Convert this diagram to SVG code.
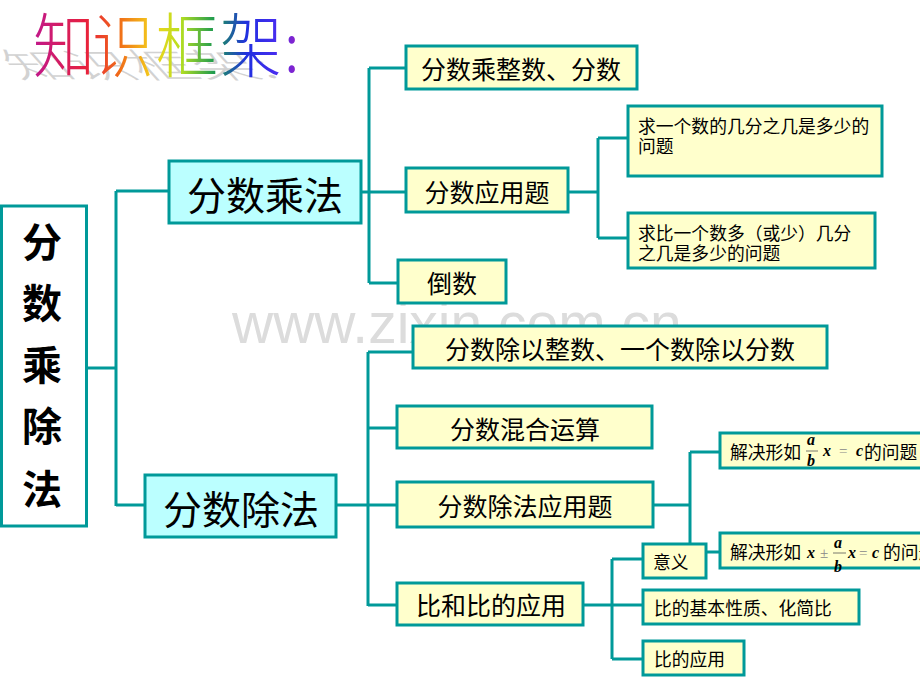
<svg xmlns="http://www.w3.org/2000/svg" width="920" height="690" viewBox="0 0 920 690">
<defs>
<linearGradient id="rainbow" gradientUnits="userSpaceOnUse" x1="33" y1="0" x2="300" y2="0">
<stop offset="0" stop-color="#c0188c"/>
<stop offset="0.2" stop-color="#e8203c"/>
<stop offset="0.32" stop-color="#f06a18"/>
<stop offset="0.45" stop-color="#f4d21c"/>
<stop offset="0.55" stop-color="#b8e020"/>
<stop offset="0.68" stop-color="#1c9a50"/>
<stop offset="0.8" stop-color="#2030e0"/>
<stop offset="0.92" stop-color="#4a2cf0"/>
<stop offset="1" stop-color="#9a20c0"/>
</linearGradient>
<style>
.box{fill:#ffffcc;stroke:#009999;stroke-width:3}
.main{fill:#bbffff;stroke:#009999;stroke-width:3}
.side{fill:#ffffff;stroke:#009999;stroke-width:3}
.con{fill:none;stroke:#009999;stroke-width:3}
.t{font-family:"Noto Sans CJK SC","Noto Sans",sans-serif;fill:#000;dominant-baseline:central}
.m{font-size:25px;text-anchor:middle}
.big{font-size:39px;text-anchor:middle}
.s{font-size:17px}
.s2{font-size:17.8px}
.f{font-family:"Liberation Serif",serif;font-style:italic;font-weight:bold;font-size:16px;fill:#000}
.op{font-family:"Liberation Serif",serif;font-size:15px;fill:#888}
.ttl{font-family:"Noto Sans CJK SC",sans-serif;font-size:62px;font-weight:200}
</style>
</defs>
<rect width="920" height="690" fill="#ffffff"/>

<g id="title">
<text class="ttl" x="40" y="0" transform="translate(-22,78) skewX(42) scale(1,0.55)" style="fill:#c4c4c4;opacity:0.75">知识框架:</text>
<text class="ttl" transform="translate(0,41) scale(1,1.14)" style="fill:url(#rainbow);dominant-baseline:central" y="0"><tspan x="33">知</tspan><tspan x="92">识</tspan><tspan x="156">框</tspan><tspan x="220">架</tspan><tspan x="284">:</tspan></text>
</g>

<g id="watermark">
<text x="232" y="343" style="font-family:'Liberation Sans',Arial,sans-serif;font-size:57px;fill:#dcdcdc">www.zixin.com.cn</text>
</g>

<g id="connectors">
<path class="con" d="M86,368 H116 M116,191 V506 M116,191 H168 M116,505 H145"/>
<path class="con" d="M361,192 H369 M369,68 V283 M369,68 H405 M369,192 H405 M369,283 H398"/>
<path class="con" d="M568,192 H598 M598,138 V238 M598,138 H628 M598,238 H628"/>
<path class="con" d="M336,505 H368 M368,352 V606 M368,352 H413 M368,428 H397 M368,505 H397 M368,605 H397"/>
<path class="con" d="M653,505 H690 M690,452 V544 M690,452 H720 M706,552 H720"/>
<path class="con" d="M583,605 H612 M612,559 V659 M612,559 H643 M612,605 H643 M612,659 H643"/>
</g>

<g id="n-root">
<rect class="side" x="1.5" y="206" width="85" height="320"/>
<g class="t" style="font-size:40px;font-weight:bold;text-anchor:middle">
<text x="42" y="240">分</text>
<text x="42" y="301">数</text>
<text x="42" y="363">乘</text>
<text x="42" y="424">除</text>
<text x="42" y="487">法</text>
</g>
</g>

<g id="n-mul">
<rect class="main" x="169" y="161" width="192" height="62"/>
<text class="t big" x="265" y="193">分数乘法</text>
</g>
<g id="n-div">
<rect class="main" x="145" y="475" width="191" height="62"/>
<text class="t big" x="241" y="507">分数除法</text>
</g>

<g id="n-mul1">
<rect class="box" x="406" y="46" width="231" height="43"/>
<text class="t m" x="521" y="68">分数乘整数、分数</text>
</g>
<g id="n-mul2">
<rect class="box" x="406" y="168" width="162" height="44"/>
<text class="t m" x="487" y="191">分数应用题</text>
</g>
<g id="n-mul3">
<rect class="box" x="398" y="260" width="108" height="43"/>
<text class="t m" x="452" y="282">倒数</text>
</g>

<g id="n-app1">
<rect class="box" x="628" y="106" width="254" height="70"/>
<text class="t s2" x="638" y="125">求一个数的几分之几是多少的</text>
<text class="t s2" x="638" y="145">问题</text>
</g>
<g id="n-app2">
<rect class="box" x="628" y="213" width="247" height="55"/>
<text class="t s2" x="638" y="232">求比一个数多（或少）几分</text>
<text class="t s2" x="638" y="252">之几是多少的问题</text>
</g>

<g id="n-div1">
<rect class="box" x="413" y="326" width="414" height="42"/>
<text class="t m" x="620" y="348">分数除以整数、一个数除以分数</text>
</g>
<g id="n-div2">
<rect class="box" x="397" y="406" width="255" height="42"/>
<text class="t m" x="525" y="428">分数混合运算</text>
</g>
<g id="n-div3">
<rect class="box" x="397" y="482" width="256" height="45"/>
<text class="t m" x="525" y="505">分数除法应用题</text>
</g>
<g id="n-div4">
<rect class="box" x="397" y="583" width="186" height="42"/>
<text class="t m" x="491" y="604">比和比的应用</text>
</g>

<g id="n-solve1">
<rect class="box" x="720" y="433" width="215" height="35"/>
<text class="t s2" x="730" y="451">解决形如</text>
<text class="f" x="807" y="445">a</text>
<line x1="806" y1="451" x2="818" y2="451" stroke="#555" stroke-width="0.8"/>
<text class="f" x="807" y="466">b</text>
<text class="f" x="823" y="456">x</text>
<text class="op" x="839" y="456">=</text>
<text class="f" x="856" y="456">c</text>
<text class="t s2" x="864" y="451">的问题</text>
</g>
<g id="n-solve2">
<rect class="box" x="720" y="533" width="215" height="35"/>
<text class="t s2" x="730" y="551">解决形如</text>
<text class="f" x="807" y="558">x</text>
<text class="op" x="820" y="558">±</text>
<text class="f" x="834" y="548">a</text>
<line x1="833" y1="553" x2="846" y2="553" stroke="#555" stroke-width="0.8"/>
<text class="f" x="834" y="572">b</text>
<text class="f" x="848" y="558">x</text>
<text class="op" x="859" y="558">=</text>
<text class="f" x="872" y="558">c</text>
<text class="t s2" x="883" y="551">的问题</text>
</g>

<g id="n-meaning">
<rect class="box" x="643" y="544" width="63" height="34"/>
<text class="t s2" x="653" y="561">意义</text>
</g>
<g id="n-prop">
<rect class="box" x="643" y="590" width="216" height="34"/>
<text class="t s2" x="654" y="607">比的基本性质、化简比</text>
</g>
<g id="n-use">
<rect class="box" x="643" y="641" width="101" height="34"/>
<text class="t s2" x="654" y="658">比的应用</text>
</g>
</svg>
